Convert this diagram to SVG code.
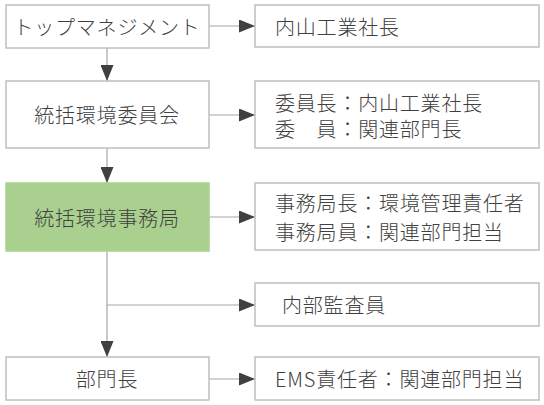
<svg xmlns="http://www.w3.org/2000/svg" width="544" height="405" viewBox="0 0 544 405">
<defs>
<style>
.box{fill:#ffffff;stroke:#bfbfbf;stroke-width:1.5}
.green{fill:#a9d08e;stroke:#a9d08e;stroke-width:1.5}
.t{font-family:"Noto Sans CJK JP","Noto Sans",sans-serif;font-size:20px;font-weight:300;letter-spacing:0.8px;fill:#404040;dominant-baseline:central}
.c{text-anchor:middle}
.ln{fill:none;stroke:#a6a6a6;stroke-width:1.2}
</style>
<marker id="ah" markerUnits="userSpaceOnUse" markerWidth="16" markerHeight="13" refX="16" refY="6.5" orient="auto">
<path d="M0,0 L16,6.5 L0,13 Z" fill="#404040"/>
</marker>
</defs>
<rect width="544" height="405" fill="#ffffff"/>
<g id="connectors">
<path class="ln" d="M107,48 V81" marker-end="url(#ah)"/>
<path class="ln" d="M107,148 V183" marker-end="url(#ah)"/>
<path class="ln" d="M107,251 V357" marker-end="url(#ah)"/>
<path class="ln" d="M107,305 H255" marker-end="url(#ah)"/>
<path class="ln" d="M209,26 H255" marker-end="url(#ah)"/>
<path class="ln" d="M209,115 H255" marker-end="url(#ah)"/>
<path class="ln" d="M209,217 H255" marker-end="url(#ah)"/>
<path class="ln" d="M209,379 H255" marker-end="url(#ah)"/>
</g>
<g id="top-management">
<rect class="box" x="6" y="5" width="203" height="43"/>
<text class="t c" x="107" y="26.5">トップマネジメント</text>
</g>
<g id="committee">
<rect class="box" x="6" y="81" width="203" height="67"/>
<text class="t c" x="107" y="114.5">統括環境委員会</text>
</g>
<g id="secretariat">
<rect class="green" x="6" y="183" width="203" height="68"/>
<text class="t c" x="107" y="217">統括環境事務局</text>
</g>
<g id="dept-head">
<rect class="box" x="6" y="357" width="203" height="43"/>
<text class="t c" x="107" y="378.5">部門長</text>
</g>
<g id="president">
<rect class="box" x="255" y="5" width="284" height="42"/>
<text class="t" x="275" y="26">内山工業社長</text>
</g>
<g id="committee-members">
<rect class="box" x="255" y="81" width="284" height="67"/>
<text class="t" x="275" y="102">委員長：内山工業社長</text>
<text class="t" x="275" y="128">委　員：関連部門長</text>
</g>
<g id="secretariat-members">
<rect class="box" x="255" y="183" width="284" height="67"/>
<text class="t" x="275" y="202">事務局長：環境管理責任者</text>
<text class="t" x="275" y="231">事務局員：関連部門担当</text>
</g>
<g id="auditor">
<rect class="box" x="255" y="283" width="284" height="43"/>
<text class="t" x="282" y="304.5">内部監査員</text>
</g>
<g id="ems">
<rect class="box" x="255" y="357" width="284" height="43"/>
<text class="t" x="275" y="378.5">EMS責任者：関連部門担当</text>
</g>
</svg>
